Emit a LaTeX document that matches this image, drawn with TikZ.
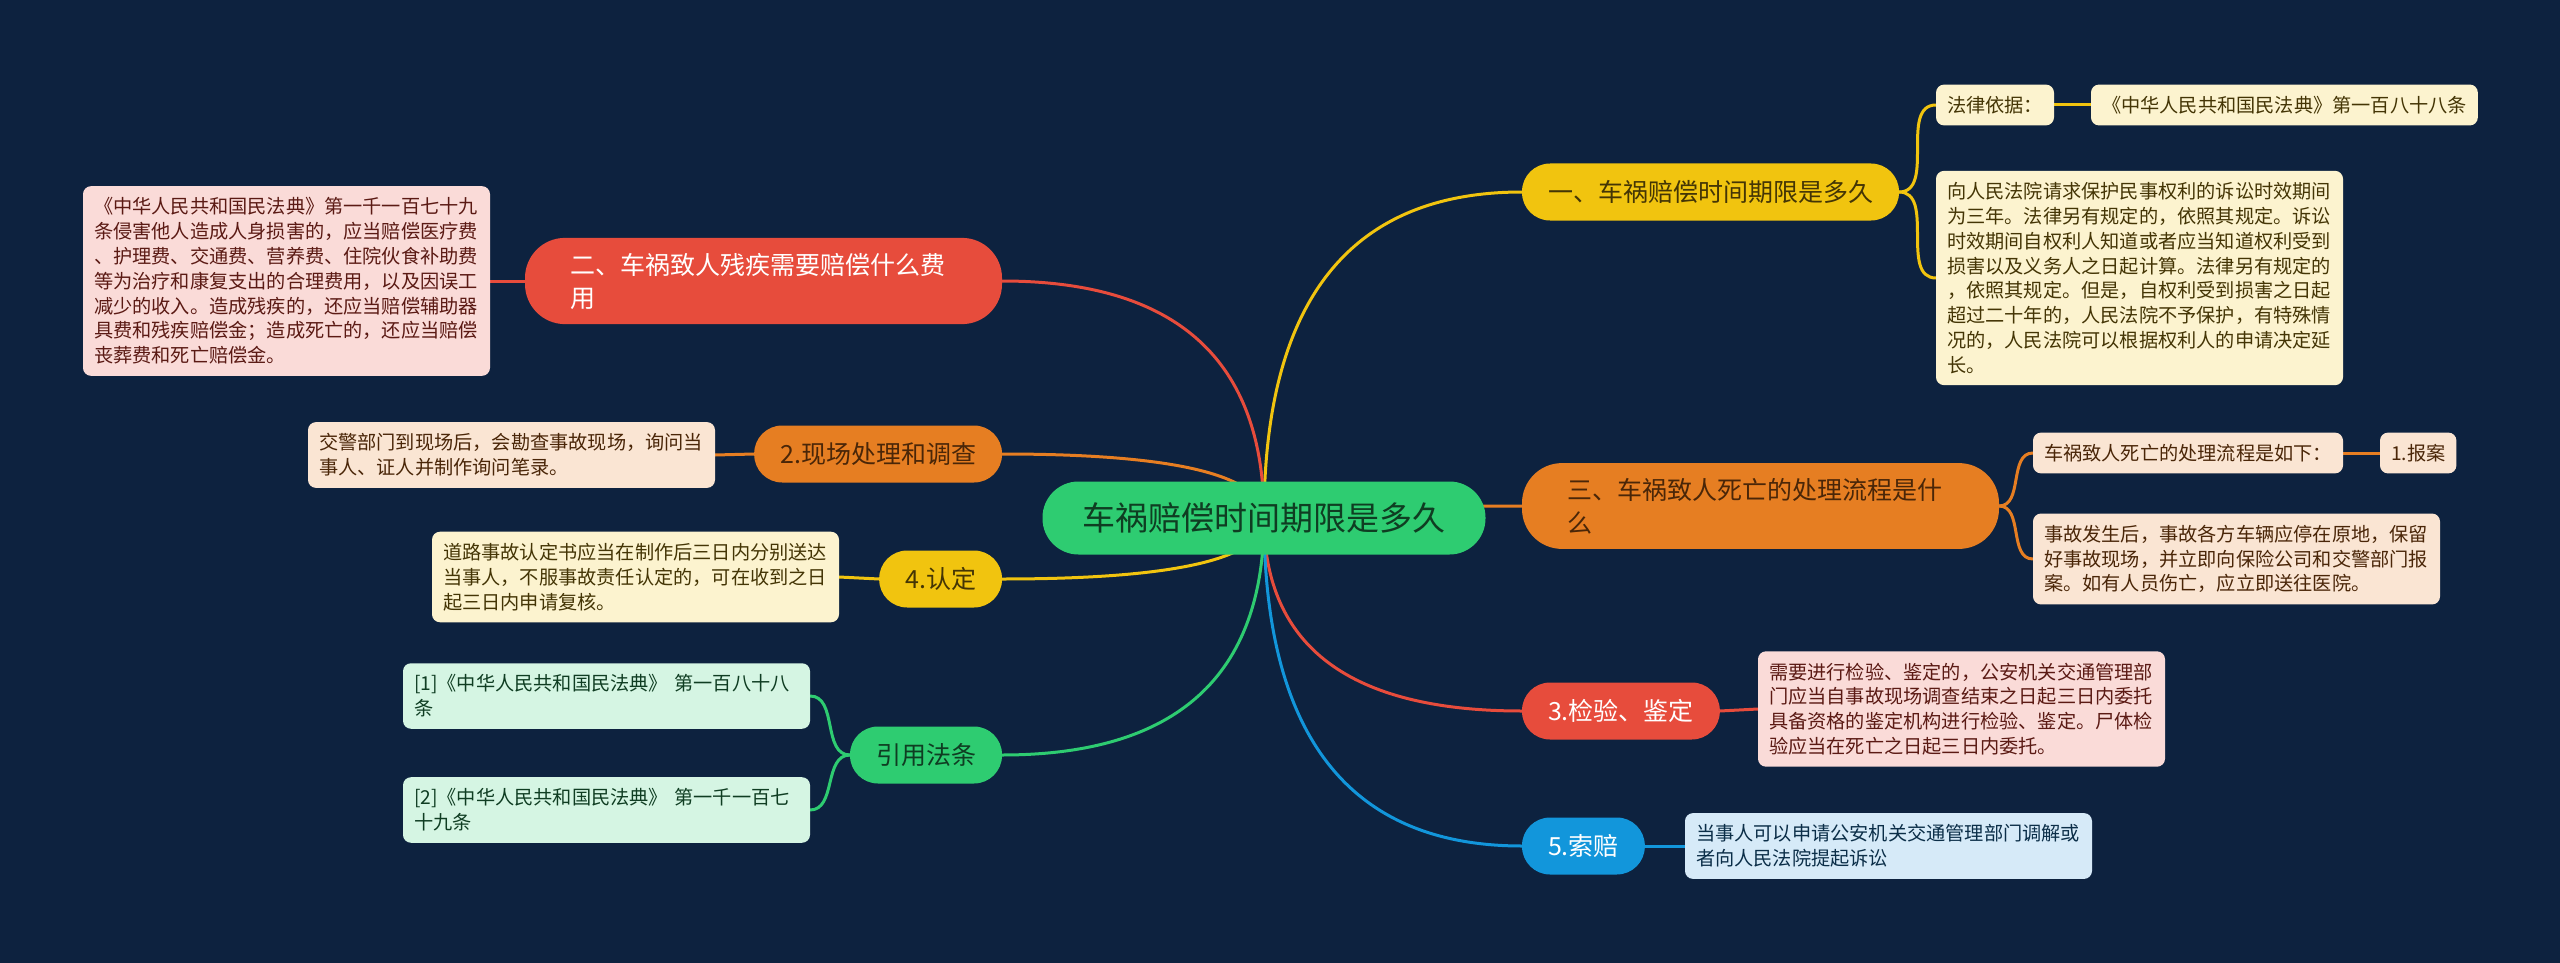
\documentclass[tikz,border=0pt]{standalone}
\usepackage{fontspec}
\setmainfont{Noto Sans CJK SC}
\usetikzlibrary{positioning, calc, backgrounds}

\definecolor{navy}{HTML}{0D223F}
\definecolor{mgreen}{HTML}{2ECC71}
\definecolor{myellow}{HTML}{F1C40F}
\definecolor{morange}{HTML}{E67E22}
\definecolor{mred}{HTML}{E74C3C}
\definecolor{mblue}{HTML}{1296DB}
\definecolor{tred}{HTML}{FADBD8}
\definecolor{torange}{HTML}{FAE5D3}
\definecolor{tyellow}{HTML}{FCF3CF}
\definecolor{tgreen}{HTML}{D5F5E3}
\definecolor{tblue}{HTML}{D6EAF8}
\definecolor{dred}{HTML}{5B1A14}
\definecolor{dorange}{HTML}{4A2608}
\definecolor{dyellow}{HTML}{443505}
\definecolor{dgreen}{HTML}{0F3D22}
\definecolor{dblue}{HTML}{0B2E48}

\begin{document}
\begin{tikzpicture}[x=0.5pt, y=-0.5pt,
    every node/.style={inner sep=0pt, outer sep=0pt},
    hub/.style={fill=mgreen, text=dgreen, rounded corners=18pt, inner xsep=20pt,
      minimum height=36.5pt, font=\fontsize{16.5}{20}\selectfont},
    topic/.style={rounded corners=14pt, inner xsep=13pt, minimum height=28.5pt,
      font=\fontsize{12.5}{16.5}\selectfont},
    topictwo/.style={topic, rounded corners=20pt, inner xsep=22.5pt, inner ysep=7.5pt,
      text width=193.5pt, align=left},
    leaf/.style={rounded corners=4pt, inner xsep=5.5pt, inner ysep=5.75pt, align=left,
      font=\fontsize{9.6}{12.4}\selectfont},
    wide/.style={text width=192.5pt},
    link/.style={line width=1.5pt},
    curvy/.style={to path={.. controls ($(\tikztostart)!0.667!(\tikztostart |- \tikztotarget)$)
      and ($(\tikztotarget)!0.667!(\tikztostart |- \tikztotarget)$) .. (\tikztotarget)}}
  ]
  \begin{scope}[on background layer]
    \fill[navy] (0,0) rectangle (2560,963);
  \end{scope}
  \useasboundingbox (0,0) rectangle (2560,963);

  % centre
  \node[hub] (root) at (1264,518) {车祸赔偿时间期限是多久};

  % right side
  \node[topic, fill=myellow, text=dyellow, anchor=west] (limit) at (1522,192) {一、车祸赔偿时间期限是多久};
  \node[leaf, fill=tyellow, text=dyellow, anchor=west] (basis) at (1936,105) {法律依据：};
  \node[leaf, fill=tyellow, text=dyellow, anchor=west] (basislaw) at (2091,105) {《中华人民共和国民法典》第一百八十八条};
  \node[leaf, wide, fill=tyellow, text=dyellow, anchor=west] (limittext) at (1936,278)
    {向人民法院请求保护民事权利的诉讼时效期间\\为三年。法律另有规定的，依照其规定。诉讼\\时效期间自权利人知道或者应当知道权利受到\\损害以及义务人之日起计算。法律另有规定的\\，依照其规定。但是，自权利受到损害之日起\\超过二十年的，人民法院不予保护，有特殊情\\况的，人民法院可以根据权利人的申请决定延\\长。};

  \node[topictwo, fill=morange, text=dorange, anchor=west] (death) at (1522,506) {三、车祸致人死亡的处理流程是什\\么};
  \node[leaf, fill=torange, text=dorange, anchor=west] (flow) at (2033,453) {车祸致人死亡的处理流程是如下：};
  \node[leaf, fill=torange, text=dorange, anchor=west] (report) at (2380,453) {1.报案};
  \node[leaf, wide, fill=torange, text=dorange, anchor=west] (flowtext) at (2033,559)
    {事故发生后，事故各方车辆应停在原地，保留\\好事故现场，并立即向保险公司和交警部门报\\案。如有人员伤亡，应立即送往医院。};

  \node[topic, fill=mred, text=white, anchor=west] (check) at (1522,711) {3.检验、鉴定};
  \node[leaf, wide, fill=tred, text=dred, anchor=west] (checktext) at (1758,709)
    {需要进行检验、鉴定的，公安机关交通管理部\\门应当自事故现场调查结束之日起三日内委托\\具备资格的鉴定机构进行检验、鉴定。尸体检\\验应当在死亡之日起三日内委托。};

  \node[topic, fill=mblue, text=white, anchor=west] (claim) at (1522,846) {5.索赔};
  \node[leaf, wide, fill=tblue, text=dblue, anchor=west] (claimtext) at (1685,846)
    {当事人可以申请公安机关交通管理部门调解或\\者向人民法院提起诉讼};

  % left side
  \node[topictwo, fill=mred, text=white, anchor=east] (injury) at (1002,281) {二、车祸致人残疾需要赔偿什么费\\用};
  \node[leaf, wide, fill=tred, text=dred, anchor=east] (injurytext) at (490,281)
    {《中华人民共和国民法典》第一千一百七十九\\条侵害他人造成人身损害的，应当赔偿医疗费\\、护理费、交通费、营养费、住院伙食补助费\\等为治疗和康复支出的合理费用，以及因误工\\减少的收入。造成残疾的，还应当赔偿辅助器\\具费和残疾赔偿金；造成死亡的，还应当赔偿\\丧葬费和死亡赔偿金。};

  \node[topic, fill=morange, text=dorange, anchor=east] (scene) at (1002,454) {2.现场处理和调查};
  \node[leaf, wide, fill=torange, text=dorange, anchor=east] (scenetext) at (715,455)
    {交警部门到现场后，会勘查事故现场，询问当\\事人、证人并制作询问笔录。};

  \node[topic, fill=myellow, text=dyellow, anchor=east] (verdict) at (1002,579) {4.认定};
  \node[leaf, wide, fill=tyellow, text=dyellow, anchor=east] (verdicttext) at (839,577)
    {道路事故认定书应当在制作后三日内分别送达\\当事人，不服事故责任认定的，可在收到之日\\起三日内申请复核。};

  \node[topic, fill=mgreen, text=dgreen, anchor=east] (refs) at (1002,755) {引用法条};
  \node[leaf, wide, fill=tgreen, text=dgreen, anchor=east] (refone) at (810,696)
    {[1]《中华人民共和国民法典》 第一百八十八\\条};
  \node[leaf, wide, fill=tgreen, text=dgreen, anchor=east] (reftwo) at (810,810)
    {[2]《中华人民共和国民法典》 第一千一百七\\十九条};

  % connectors
  \begin{scope}[on background layer]
    \draw[link, myellow] (root.center) to[curvy] (limit.west);
    \draw[link, morange] (root.center) to[curvy] (death.west);
    \draw[link, mred] (root.center) to[curvy] (check.west);
    \draw[link, mblue] (root.center) to[curvy] (claim.west);
    \draw[link, mred] (root.center) to[curvy] (injury.east);
    \draw[link, morange] (root.center) to[curvy] (scene.east);
    \draw[link, myellow] (root.center) to[curvy] (verdict.east);
    \draw[link, mgreen] (root.center) to[curvy] (refs.east);

    \draw[link, myellow] (limit.east) to[out=0, in=180] (basis.west);
    \draw[link, myellow] (limit.east) to[out=0, in=180] (limittext.west);
    \draw[link, myellow] (basis.east) -- (basislaw.west);
    \draw[link, morange] (death.east) to[out=0, in=180] (flow.west);
    \draw[link, morange] (death.east) to[out=0, in=180] (flowtext.west);
    \draw[link, morange] (flow.east) -- (report.west);
    \draw[link, mred] (check.east) -- (checktext.west);
    \draw[link, mblue] (claim.east) -- (claimtext.west);
    \draw[link, mred] (injury.west) -- (injurytext.east);
    \draw[link, morange] (scene.west) -- (scenetext.east);
    \draw[link, myellow] (verdict.west) -- (verdicttext.east);
    \draw[link, mgreen] (refs.west) to[out=180, in=0] (refone.east);
    \draw[link, mgreen] (refs.west) to[out=180, in=0] (reftwo.east);
  \end{scope}
\end{tikzpicture}
\end{document}
